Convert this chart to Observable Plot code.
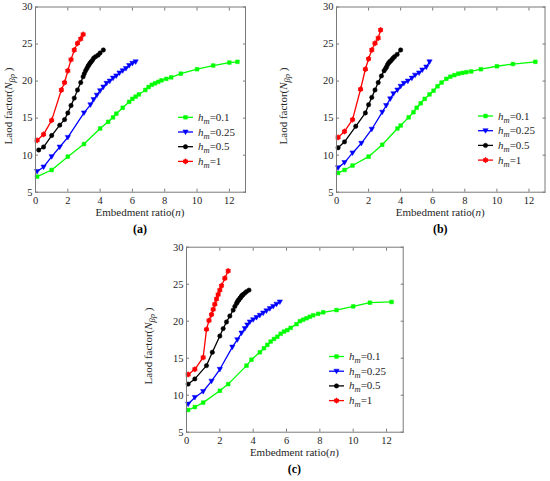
<!DOCTYPE html>
<html>
<head>
<meta charset="utf-8">
<script src="https://cdn.jsdelivr.net/npm/d3@7"></script>
<script src="https://cdn.jsdelivr.net/npm/@observablehq/plot@0.6"></script>
<style>
  html, body { margin: 0; padding: 0; background: #fff; }
  #root { position: relative; width: 550px; height: 481px; background: #fff; overflow: hidden; }
  #root svg { position: absolute; overflow: visible; }
  #root svg, #root svg text, #root svg tspan { font-family: "Liberation Serif", "Times New Roman", Times, serif !important; }
</style>
</head>
<body>
<div id="root"></div>
<script>
// ---- data ----
const xTicks = [0, 2, 4, 6, 8, 10, 12];
const yTicks = [5, 10, 15, 20, 25, 30];
const hmLabels = ["0.1", "0.25", "0.5", "1"];
const panelLetters = ["a", "b", "c"];

// panel (a)
const aGreenN = [0.1,1,2,3,4,4.5,4.8,5,5.4,5.8,6,6.2,6.4,6.8,7,7.2,7.4,7.6,7.8,8.1,8.4,9,10,11,12,12.5];
const aGreenV = [7.1,8.0,9.8,11.5,13.6,14.5,15.1,15.6,16.4,17.2,17.6,17.9,18.2,18.8,19.2,19.5,19.7,19.9,20.1,20.3,20.5,21.0,21.6,22.1,22.5,22.6];
const aBlueN = [0.1,0.5,1,1.5,2,3,3.4,3.6,3.8,4,4.2,4.4,4.6,4.8,5,5.2,5.4,5.6,5.8,6,6.2];
const aBlueV = [7.8,8.4,9.8,11.1,12.4,15.7,16.8,17.5,18.1,18.7,19.2,19.7,20.0,20.4,20.7,21.1,21.4,21.7,22.1,22.4,22.6];
const aBlackN = [0.2,0.5,1.0,1.5,1.8,2.0,2.2,2.4,2.6,2.8,2.95,3.02,3.1,3.18,3.25,3.31,3.37,3.44,3.52,3.6,3.72,3.87,4.0,4.2];
const aBlackV = [10.7,11.1,12.65,14.05,14.8,15.7,16.7,17.7,18.8,19.8,20.6,21.0,21.4,21.7,22.0,22.2,22.4,22.6,22.8,23.1,23.3,23.5,23.8,24.2];
const aRedN = [0.1,0.5,1,1.6,1.8,2,2.2,2.4,2.6,2.8,2.95];
const aRedV = [12.0,12.8,14.7,18.8,19.8,21.4,22.9,24.2,25.1,25.7,26.3];

// panel (b)
const bGreenN = [0.1,0.5,1,2,2.85,3.8,4.0,4.5,4.8,5,5.25,5.5,5.8,6.05,6.3,6.55,6.85,7.1,7.35,7.6,7.85,8.1,8.4,9,10,11,12.4];
const bGreenV = [7.6,8.0,8.6,9.8,11.4,13.6,14.0,15.1,15.8,16.4,17.0,17.6,18.2,18.7,19.3,19.8,20.3,20.6,20.8,21.0,21.1,21.2,21.3,21.6,22.0,22.3,22.6];
const bBlueN = [0.1,0.5,1,1.55,2.2,2.85,3.1,3.35,3.55,3.8,4.0,4.2,4.45,4.7,4.9,5.15,5.35,5.6,5.8];
const bBlueV = [8.3,9.0,10.3,11.6,13.5,15.8,16.7,17.6,18.3,18.8,19.3,19.7,20.0,20.4,20.8,21.1,21.5,21.9,22.6];
const bBlackN = [0.1,0.5,1.2,1.8,2,2.2,2.4,2.6,2.8,2.97,3.06,3.12,3.18,3.24,3.31,3.37,3.45,3.53,3.62,3.78,4.0];
const bBlackV = [11.0,11.8,13.9,15.7,16.8,17.8,18.8,19.8,20.7,21.4,21.7,21.9,22.2,22.4,22.6,22.7,22.9,23.1,23.3,23.6,24.2];
const bRedN = [0.1,0.5,1,1.5,1.8,2,2.2,2.4,2.6,2.75];
const bRedV = [12.4,13.2,14.8,18.9,21.6,23.0,24.2,25.1,25.8,26.9];

// panel (c)
const cGreenN = [0.1,0.5,1,2,2.5,3.6,3.9,4.4,4.65,4.85,5.05,5.25,5.45,5.65,5.85,6.05,6.25,6.6,6.8,7,7.2,7.4,7.6,7.9,8.2,9,10,11,12.3];
const cGreenV = [8.0,8.4,9.0,10.6,11.5,14.0,14.8,15.8,16.35,16.8,17.25,17.6,17.9,18.3,18.6,18.8,19.1,19.6,20.0,20.2,20.4,20.6,20.8,21.0,21.2,21.5,22.0,22.5,22.6];
const cBlueN = [0.1,0.5,1,1.5,2,2.75,3.05,3.3,3.5,3.65,3.8,4,4.2,4.4,4.6,4.8,5,5.2,5.4,5.6];
const cBlueV = [8.8,9.7,10.5,11.9,13.5,16.5,17.5,18.4,19.0,19.5,19.9,20.2,20.5,20.8,21.1,21.4,21.7,22.0,22.3,22.6];
const cBlackN = [0.1,0.5,1.2,1.55,2,2.2,2.4,2.6,2.8,2.9,3.0,3.05,3.1,3.15,3.2,3.25,3.3,3.35,3.4,3.5,3.6,3.75];
const cBlackV = [11.5,12.2,14.0,15.8,18.0,19.0,19.9,20.7,21.5,22.0,22.4,22.6,22.8,22.9,23.1,23.2,23.4,23.5,23.6,23.8,24.0,24.2];
const cRedN = [0.1,0.5,1,1.2,1.35,1.5,1.6,1.7,1.8,1.9,2.0,2.1,2.3,2.5];
const cRedV = [12.8,13.5,15.1,18.9,20.1,20.9,21.6,22.3,23.0,23.6,24.2,24.8,25.8,26.8];

// ---- styling ----
const FONT = "Liberation Serif, Times New Roman, Times, serif";
const AXIS_COLOR = "#7a7a7a";
const TEXT_COLOR = "#262626";
const colors = ["#00ff00", "#0000ff", "#000000", "#ff0000"];

const triDown = {
  draw(ctx, size) {
    const r = Math.sqrt(size / Math.PI);
    ctx.moveTo(-r * 1.05, -r * 0.8);
    ctx.lineTo(r * 1.05, -r * 0.8);
    ctx.lineTo(0, r * 1.05);
    ctx.closePath();
  }
};

function zip(ns, vs) { return ns.map((n, i) => ({n, v: vs[i]})); }

function seriesMarks(data, k) {
  const c = colors[k];
  const m = [Plot.line(data, {x: "n", y: "v", stroke: c, strokeWidth: 1.3})];
  if (k === 0) m.push(Plot.dot(data, {x: "n", y: "v", symbol: "square", r: 2.1, fill: c, stroke: c, strokeWidth: 0.5}));
  if (k === 1) m.push(Plot.dot(data, {x: "n", y: "v", symbol: triDown, r: 2.5, fill: c, stroke: c, strokeWidth: 0.5}));
  if (k === 2) m.push(Plot.dot(data, {x: "n", y: "v", symbol: "circle", r: 2.2, fill: c, stroke: c, strokeWidth: 0.5}));
  if (k === 3) {
    m.push(Plot.dot(data, {x: "n", y: "v", symbol: "circle", r: 2.2, fill: c, stroke: c, strokeWidth: 0.5}));
    m.push(Plot.dot(data, {x: "n", y: "v", symbol: "asterisk", r: 2.7, stroke: c, strokeWidth: 0.9}));
  }
  return m;
}

function drawPanel(cfg) {
  const series = cfg.series.map(([ns, vs]) => zip(ns, vs));
  const chart = Plot.plot({
    width: cfg.W, height: cfg.H,
    marginLeft: cfg.mL, marginRight: cfg.mR, marginTop: cfg.mT, marginBottom: cfg.mB,
    style: {fontFamily: FONT, fontSize: "10.5px", color: TEXT_COLOR, background: "transparent", overflow: "visible"},
    x: {domain: [0, 13]},
    y: {domain: [5, 30]},
    marks: [
      ...series.flatMap((d, k) => seriesMarks(d, k)),
      Plot.frame({stroke: AXIS_COLOR, strokeWidth: 1}),
      Plot.axisX({ticks: xTicks, tickSize: -3, tickPadding: 7, label: null, stroke: AXIS_COLOR, fill: TEXT_COLOR, fontSize: 10.5}),
      Plot.axisX({anchor: "top", ticks: xTicks, tickSize: -3, tickFormat: () => "", label: null, stroke: AXIS_COLOR}),
      Plot.axisY({ticks: yTicks, tickSize: -3, tickPadding: 6, label: null, stroke: AXIS_COLOR, fill: TEXT_COLOR, fontSize: 10.5}),
      Plot.axisY({anchor: "right", ticks: yTicks, tickSize: -3, tickFormat: () => "", label: null, stroke: AXIS_COLOR})
    ]
  });
  chart.style.left = cfg.left + "px";
  chart.style.top = cfg.top + "px";
  document.getElementById("root").appendChild(chart);

  const svg = d3.select(chart);
  const cx = (cfg.mL + cfg.W - cfg.mR) / 2;
  const axisBottom = cfg.H - cfg.mB;

  // x label
  const xl = svg.append("text")
    .attr("x", cx).attr("y", axisBottom + 24.5)
    .attr("text-anchor", "middle")
    .attr("font-size", 11).attr("fill", TEXT_COLOR);
  xl.append("tspan").text("Embedment ratio(");
  xl.append("tspan").attr("font-style", "italic").text("n");
  xl.append("tspan").text(")");

  // panel letter
  const pl = svg.append("text")
    .attr("x", cx).attr("y", axisBottom + 41.5)
    .attr("text-anchor", "middle")
    .attr("font-size", 12).attr("fill", "#000").attr("font-weight", "bold");
  pl.text("(" + cfg.letter + ")");

  // y label
  const yl = svg.append("text")
    .attr("transform", `translate(${cfg.yLabelX},${cfg.yLabelY}) rotate(-90)`)
    .attr("text-anchor", "middle")
    .attr("font-size", 11).attr("fill", TEXT_COLOR);
  yl.append("tspan").text("Laod factor(");
  yl.append("tspan").attr("font-style", "italic").text("N");
  yl.append("tspan").attr("font-style", "italic").attr("font-size", 8.5).attr("dy", 3).text("βp");
  yl.append("tspan").attr("dy", -3).text(" )");

  // legend
  const lg = svg.append("g").attr("font-size", 11).attr("fill", TEXT_COLOR);
  const symbols = [d3.symbolSquare, triDown, d3.symbolCircle, d3.symbolCircle];
  const sizes = [Math.PI * 2.1 * 2.1, Math.PI * 2.5 * 2.5, Math.PI * 2.2 * 2.2, Math.PI * 2.2 * 2.2];
  hmLabels.forEach((lab, k) => {
    const y = cfg.legendY + k * 14.7;
    lg.append("line").attr("x1", cfg.legendX).attr("x2", cfg.legendX + 15)
      .attr("y1", y).attr("y2", y).attr("stroke", colors[k]).attr("stroke-width", 1.3);
    lg.append("path").attr("d", d3.symbol(symbols[k], sizes[k])())
      .attr("transform", `translate(${cfg.legendX + 7.5},${y})`)
      .attr("fill", colors[k]).attr("stroke", colors[k]).attr("stroke-width", 0.5);
    if (k === 3) {
      lg.append("path").attr("d", d3.symbol(d3.symbolAsterisk, Math.PI * 2.7 * 2.7)())
        .attr("transform", `translate(${cfg.legendX + 7.5},${y})`)
        .attr("fill", "none").attr("stroke", colors[k]).attr("stroke-width", 0.9);
    }
    const t = lg.append("text").attr("x", cfg.legendX + 20).attr("y", y + 3.5).attr("text-anchor", "start");
    t.append("tspan").attr("font-style", "italic").text("h");
    t.append("tspan").attr("font-style", "italic").attr("font-size", 8.5).attr("dy", 3).text("m");
    t.append("tspan").attr("dy", -3).text("=" + lab);
  });
}

drawPanel({
  letter: panelLetters[0], left: 0, top: 0, W: 275, H: 240,
  mL: 35, mR: 30, mT: 6.5, mB: 48.3,
  yLabelX: 12, yLabelY: 106, legendX: 178, legendY: 117.3,
  series: [[aGreenN, aGreenV], [aBlueN, aBlueV], [aBlackN, aBlackV], [aRedN, aRedV]]
});
drawPanel({
  letter: panelLetters[1], left: 275, top: 0, W: 275, H: 240,
  mL: 61, mR: 5.5, mT: 6.5, mB: 48.3,
  yLabelX: 12, yLabelY: 106, legendX: 203, legendY: 116,
  series: [[bGreenN, bGreenV], [bBlueN, bBlueV], [bBlackN, bBlackV], [bRedN, bRedV]]
});
drawPanel({
  letter: panelLetters[2], left: 140, top: 240, W: 275, H: 241,
  mL: 46, mR: 12.3, mT: 6.7, mB: 49.3,
  yLabelX: 12, yLabelY: 106, legendX: 189, legendY: 116.5,
  series: [[cGreenN, cGreenV], [cBlueN, cBlueV], [cBlackN, cBlackV], [cRedN, cRedV]]
});
</script>
</body>
</html>
